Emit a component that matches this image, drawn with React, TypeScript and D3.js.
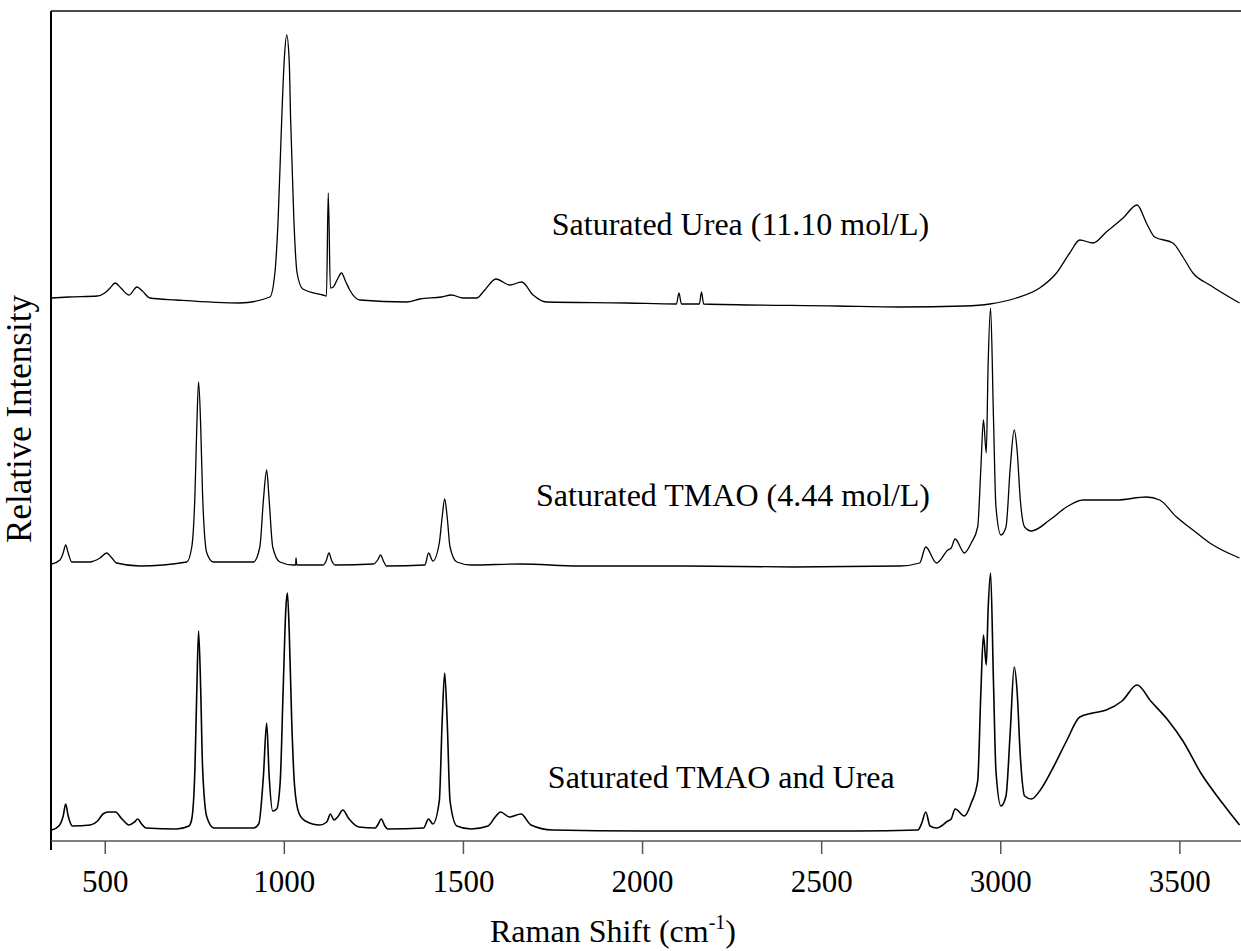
import { useEffect, useRef } from 'react'
import * as d3 from 'd3'

const W = 1241
const H = 951
const M = { left: 51, top: 11, bottom: 841, right: 1241 }
const FONT = 'Liberation Serif, Times New Roman, Times, serif'

const X_DOMAIN = [350, 3700]
const X_TICKS = [500, 1000, 1500, 2000, 2500, 3000, 3500]
const Y_DOMAIN = [0, 830]

// [raman shift (cm-1), relative intensity (arb., traces already offset)]
const UREA: [number, number][] = [
  [352, 543], [400, 544], [479, 545], [500, 548], [515, 553], [529, 558], [545, 553],
  [568, 546], [590, 554], [605, 550], [626, 543], [700, 541], [877, 538], [961, 544],
  [975, 568], [984, 621], [994, 721], [1001, 780], [1008, 806], [1015, 780], [1019, 721],
  [1028, 621], [1037, 568], [1053, 552], [1109, 546], [1119, 545], [1124, 648], [1130, 553],
  [1138, 554], [1150, 562], [1161, 568], [1172, 560], [1184, 551], [1212, 541], [1343, 539],
  [1380, 542], [1440, 544], [1468, 546], [1500, 543], [1538, 543], [1561, 551], [1592, 562],
  [1631, 556], [1664, 559], [1696, 546], [1733, 539], [1957, 538], [2096, 537], [2103, 548],
  [2110, 537], [2160, 537], [2166, 549], [2172, 537], [2543, 535], [2720, 534], [2900, 535],
  [2971, 537], [3045, 543], [3110, 553], [3157, 568], [3194, 588], [3222, 601], [3259, 598],
  [3296, 609], [3343, 623], [3382, 636], [3408, 618], [3431, 604], [3482, 598], [3510, 584],
  [3538, 568], [3585, 556], [3668, 538],
]

const TMAO: [number, number][] = [
  [352, 277], [375, 281], [384, 288], [391, 296], [398, 288], [408, 279], [459, 279],
  [470, 280], [487, 283], [505, 288], [520, 283], [533, 278], [598, 275], [729, 279],
  [743, 294], [752, 348], [757, 414], [762, 459], [768, 414], [773, 348], [785, 288],
  [803, 279], [915, 279], [933, 294], [943, 341], [952, 371], [959, 341], [969, 294],
  [989, 279], [1026, 276], [1033, 276], [1034, 283], [1036, 276], [1110, 276], [1118, 280],
  [1126, 288], [1134, 280], [1143, 276], [1250, 277], [1262, 281], [1270, 286], [1278, 280],
  [1287, 275], [1394, 276], [1404, 288], [1416, 280], [1434, 298], [1442, 324], [1449, 342],
  [1456, 324], [1464, 294], [1483, 279], [1523, 276], [1663, 277], [1823, 275], [2121, 275],
  [2421, 274], [2720, 275], [2775, 278], [2792, 294], [2822, 278], [2854, 291],
  [2863, 293], [2874, 302], [2900, 288], [2919, 298], [2937, 314], [2946, 374], [2953, 421],
  [2961, 388], [2966, 474], [2973, 533], [2981, 424], [2988, 334], [3002, 306], [3016, 314],
  [3028, 374], [3039, 411], [3047, 391], [3056, 341], [3068, 314], [3087, 310], [3138, 321],
  [3185, 334], [3231, 341], [3324, 341], [3408, 344], [3445, 341], [3492, 324], [3538, 311],
  [3585, 298], [3668, 283],
]

const MIXTURE: [number, number][] = [
  [352, 11], [372, 15], [384, 25], [391, 37], [398, 25], [410, 15], [460, 16], [480, 20],
  [495, 27], [510, 29], [530, 29], [548, 22], [568, 16], [583, 19], [592, 22], [603, 17],
  [615, 13], [700, 12], [735, 15], [743, 22], [752, 75], [757, 150], [762, 210], [768, 150],
  [773, 75], [785, 24], [805, 13], [915, 13], [930, 17], [943, 65], [952, 118], [959, 65],
  [969, 30], [980, 32], [990, 60], [998, 150], [1006, 235], [1010, 248], [1015, 210],
  [1022, 120], [1030, 55], [1042, 28], [1060, 20], [1100, 16], [1120, 19], [1130, 27],
  [1140, 21], [1150, 24], [1165, 31], [1180, 23], [1210, 14], [1255, 13], [1262, 16],
  [1272, 22], [1282, 15], [1290, 12], [1390, 13], [1404, 22], [1416, 17], [1434, 40],
  [1442, 120], [1449, 168], [1456, 120], [1464, 40], [1483, 15], [1523, 12], [1570, 15],
  [1590, 24], [1605, 29], [1630, 24], [1662, 27], [1690, 16], [1750, 11], [2000, 10],
  [2300, 10], [2600, 10], [2770, 11], [2781, 18], [2792, 29], [2804, 15], [2822, 13],
  [2854, 20], [2863, 22], [2874, 32], [2900, 25], [2919, 38], [2937, 60], [2946, 150],
  [2953, 206], [2961, 176], [2966, 230], [2973, 268], [2981, 160], [2988, 70], [3002, 35],
  [3016, 45], [3028, 110], [3039, 174], [3047, 150], [3056, 85], [3068, 45], [3087, 42],
  [3110, 50], [3150, 75], [3185, 100], [3222, 124], [3259, 128], [3296, 131], [3340, 140],
  [3382, 156], [3420, 140], [3470, 120], [3510, 100], [3560, 68], [3620, 38], [3668, 16],
]

const SERIES = [UREA, TMAO, MIXTURE]
const SERIES_NAMES = [
  'Saturated Urea (11.10 mol/L)',
  'Saturated TMAO (4.44 mol/L)',
  'Saturated TMAO and Urea',
]
// label anchors in data units [shift, intensity]
const NAME_ANCHORS: [number, number][] = [[1748, 606], [1704, 335], [1737, 53]]

export default function App() {
  const axisRef = useRef<SVGGElement>(null)

  const x = d3.scaleLinear().domain(X_DOMAIN).range([M.left, 1251])
  const y = d3.scaleLinear().domain(Y_DOMAIN).range([M.bottom, M.top])

  const line = d3.line<[number, number]>()
    .x(d => x(d[0]))
    .y(d => y(d[1]))
    .curve(d3.curveMonotoneX)

  useEffect(() => {
    if (!axisRef.current) return
    const g = d3.select(axisRef.current)
    g.selectAll('*').remove()
    g.call(d3.axisBottom(x).tickValues(X_TICKS).tickSize(13).tickPadding(16).tickFormat(d3.format('d')))
      .attr('font-family', FONT)
      .call(ax => ax.select('.domain').remove())
      .call(ax => ax.selectAll('.tick line').attr('stroke', '#555').attr('stroke-width', 1.5))
      .call(ax => ax.selectAll('.tick text')
        .attr('font-size', 31).attr('font-family', FONT).attr('fill', '#000'))
  }, [])

  return (
    <div style={{ position: 'absolute', left: 0, top: 0 }}>
      <svg width={W} height={H} style={{ display: 'block', background: '#fff', fontFamily: FONT }}>
        <defs>
          <clipPath id="plot-clip">
            <rect x={M.left} y={M.top} width={M.right - M.left} height={M.bottom - M.top} />
          </clipPath>
        </defs>

        {/* spectra */}
        <g clipPath="url(#plot-clip)">
          {SERIES.map((s, i) => (
            <path key={i} d={line(s) ?? ''} fill="none" stroke="#000"
              strokeWidth={i === 2 ? 1.6 : 1.3} strokeLinejoin="round" />
          ))}
        </g>

        {/* frame */}
        <line x1={M.left} x2={M.right} y1={M.top} y2={M.top} stroke="#4a4a4a" strokeWidth={2} />
        <line x1={M.left} x2={M.left} y1={M.top} y2={850} stroke="#000" strokeWidth={2} />
        <line x1={M.left} x2={M.right} y1={M.bottom} y2={M.bottom} stroke="#555" strokeWidth={1.5} />
        <g ref={axisRef} transform={`translate(0,${M.bottom})`} />

        {/* series labels */}
        {SERIES_NAMES.map((name, i) => (
          <text key={name} x={x(NAME_ANCHORS[i][0])} y={y(NAME_ANCHORS[i][1])}
            style={{ fontFamily: FONT }} fontSize={32} fill="#000">{name}</text>
        ))}

        {/* axis titles */}
        <text x={613} y={942} textAnchor="middle" style={{ fontFamily: FONT }} fontSize={32} fill="#000">
          Raman Shift (cm<tspan dy={-13} fontSize={20}>-1</tspan><tspan dy={13}>)</tspan>
        </text>
        <text transform="translate(31,419) rotate(-90)" textAnchor="middle"
          style={{ fontFamily: FONT }} fontSize={35} fill="#000">Relative Intensity</text>
      </svg>
    </div>
  )
}
